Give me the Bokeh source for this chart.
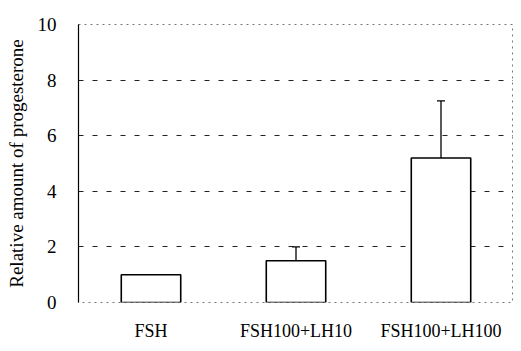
from bokeh.plotting import figure
from bokeh.models import ColumnDataSource, FixedTicker, Whisker, TeeHead
from bokeh.embed import file_html
from bokeh.resources import INLINE

categories = ["FSH", "FSH100+LH10", "FSH100+LH100"]
values = [1.0, 1.5, 5.2]
errors = [0.0, 0.5, 2.05]
y_ticks = [0, 2, 4, 6, 8, 10]

upper = [v + e for v, e in zip(values, errors)]
src = ColumnDataSource(dict(cat=categories, val=values, upper=upper))
err_src = ColumnDataSource(dict(cat=categories[1:], val=values[1:], upper=upper[1:]))

p = figure(x_range=categories, y_range=(0, 10), width=513, height=343,
           output_backend="svg", toolbar_location=None,
           min_border_left=78, min_border_right=0, min_border_top=24, min_border_bottom=39)

p.add_layout(Whisker(source=err_src, base="cat", upper="upper", lower="val",
                     line_color="black", line_width=1.3,
                     upper_head=TeeHead(size=8, line_color="black", line_width=1.3),
                     lower_head=None))
p.vbar(x="cat", top="val", width=0.41, source=src, fill_color="white",
       line_color="black", line_width=1.6)

p.outline_line_color = "#777777"
p.outline_line_dash = "dotted"
p.outline_line_width = 1

p.xgrid.grid_line_color = None
p.ygrid.ticker = FixedTicker(ticks=[2, 4, 6, 8])
p.ygrid.grid_line_color = "#222222"
p.ygrid.grid_line_dash = "5 9"
p.ygrid.grid_line_width = 1
p.ygrid.level = "underlay"

p.yaxis.ticker = FixedTicker(ticks=y_ticks)
p.yaxis.axis_line_color = "black"
p.yaxis.axis_line_width = 1.2
p.yaxis.major_tick_line_color = None
p.yaxis.minor_tick_line_color = None
p.yaxis.major_label_standoff = 16
p.yaxis.major_label_text_font = "Liberation Serif"
p.yaxis.major_label_text_font_size = "19px"
p.yaxis.major_label_text_color = "black"
p.yaxis.axis_label = "Relative amount of progesterone"
p.yaxis.axis_label_text_font = "Liberation Serif"
p.yaxis.axis_label_text_font_style = "normal"
p.yaxis.axis_label_text_font_size = "19px"
p.yaxis.axis_label_text_color = "black"
p.yaxis.axis_label_standoff = 8

p.xaxis.axis_line_color = None
p.xaxis.major_tick_line_color = None
p.xaxis.minor_tick_line_color = None
p.xaxis.major_label_standoff = 12
p.xaxis.major_label_text_font = "Liberation Serif"
p.xaxis.major_label_text_font_size = "18px"
p.xaxis.major_label_text_color = "black"

p.background_fill_color = "white"
p.border_fill_color = "white"

open("out.html", "w").write(file_html(p, INLINE))
